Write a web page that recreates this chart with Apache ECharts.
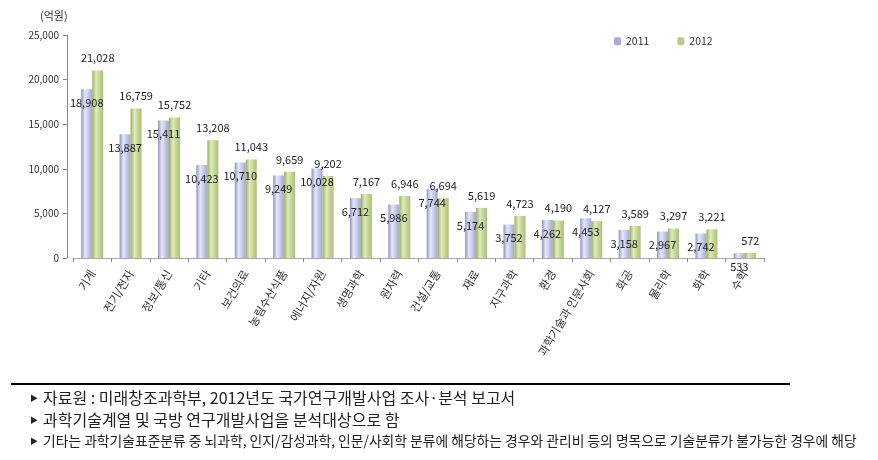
<!DOCTYPE html>
<html>
<head>
<meta charset="utf-8">
<script src="https://cdn.jsdelivr.net/npm/echarts@6/dist/echarts.min.js"></script>
<style>
  html, body { margin: 0; padding: 0; background: #fff; }
  #chart { width: 878px; height: 460px; }
</style>
</head>
<body>
<div id="chart"></div>
<script>
var categories = ['기계', '전기/전자', '정보/통신', '기타', '보건의료', '농림수산식품', '에너지/자원', '생명과학', '원자력',
    '건설/교통', '재료', '지구과학', '환경', '과학기술과 인문사회', '화공', '물리학', '화학', '수학'];
var values2011 = [18908, 13887, 15411, 10423, 10710, 9249, 10028, 6712, 5986, 7744, 5174, 3752, 4262, 4453, 3158, 2967, 2742, 533];
var values2012 = [21028, 16759, 15752, 13208, 11043, 9659, 9202, 7167, 6946, 6694, 5619, 4723, 4190, 4127, 3589, 3297, 3221, 572];
var yTicks = [0, 5000, 10000, 15000, 20000, 25000];
var notes = [
    '자료원 : 미래창조과학부, 2012년도 국가연구개발사업 조사·분석 보고서',
    '과학기술계열 및 국방 연구개발사업을 분석대상으로 함',
    '기타는 과학기술표준분류 중 뇌과학, 인지/감성과학, 인문/사회학 분류에 해당하는 경우와 관리비 등의 명목으로 기술분류가 불가능한 경우에 해당'
];

var font = '"Noto Sans CJK KR", "Noto Sans", sans-serif';

function fmt(v) {
    return v.toString().replace(/\B(?=(\d{3})+(?!\d))/g, ',');
}

function grad(c0, c1, c2) {
    return new echarts.graphic.LinearGradient(0, 0, 1, 0, [
        { offset: 0, color: c0 },
        { offset: 0.35, color: c1 },
        { offset: 1, color: c2 }
    ]);
}

var chart = echarts.init(document.getElementById('chart'));

var noteGraphics = [];
notes.forEach(function (t, i) {
    var y = [399, 421, 442][i];
    var size = [16, 16, 13.8][i];
    noteGraphics.push({
        type: 'text', left: 30, top: y - 5,
        style: { text: '▶', font: '8px ' + font, fill: '#222' }
    });
    noteGraphics.push({
        type: 'text', left: 43, top: y - size * 0.58,
        style: { text: t, font: size + 'px ' + font, fill: '#222' }
    });
});

chart.setOption({
    animation: false,
    textStyle: { fontFamily: font },
    grid: { left: 73, right: 114, top: 35, bottom: 202 },
    legend: {
        left: 609, top: 31,
        itemWidth: 7, itemHeight: 8, itemGap: 28,
        textStyle: { fontSize: 10.5, color: '#333' },
        data: [
            { name: '2011', itemStyle: { color: '#a9acd8' } },
            { name: '2012', itemStyle: { color: '#b9cc8c' } }
        ]
    },
    xAxis: {
        type: 'category',
        data: categories,
        axisLine: { lineStyle: { color: '#aaa', width: 1 } },
        axisTick: { show: true, length: 4, lineStyle: { color: '#888' } },
        axisLabel: { rotate: 59, fontSize: 11.5, color: '#333', margin: 13, interval: 0 }
    },
    yAxis: {
        type: 'value',
        min: 0, max: 25000, interval: 5000,
        offset: 6,
        splitLine: { show: false },
        axisLine: { show: true, lineStyle: { color: '#888' } },
        axisTick: { show: true, length: 4, lineStyle: { color: '#888' } },
        axisLabel: {
            fontSize: 10, color: '#333', margin: 8,
            formatter: function (v) { return yTicks.indexOf(v) >= 0 ? fmt(v) : ''; }
        }
    },
    series: [
        {
            name: '2011', type: 'bar', data: values2011,
            barWidth: 11, barGap: '0%',
            itemStyle: { color: grad('#8f93c9', '#e6e8f7', '#a2a6d5') },
            label: {
                show: true, position: 'insideTop', distance: 8,
                fontSize: 11, color: '#222',
                formatter: function (p) { return fmt(p.value); }
            }
        },
        {
            name: '2012', type: 'bar', data: values2012,
            barWidth: 11,
            itemStyle: { color: grad('#9bb060', '#e0eabe', '#a9c06e') },
            label: {
                show: true, position: 'top', distance: 7,
                fontSize: 11, color: '#222',
                formatter: function (p) { return fmt(p.value); }
            }
        }
    ],
    graphic: [
        { type: 'text', left: 40, top: 10, style: { text: '(억원)', font: '11px ' + font, fill: '#333' } },
        { type: 'rect', shape: { x: 11, y: 383, width: 779, height: 2 }, style: { fill: '#000' } }
    ].concat(noteGraphics)
});
</script>
</body>
</html>
